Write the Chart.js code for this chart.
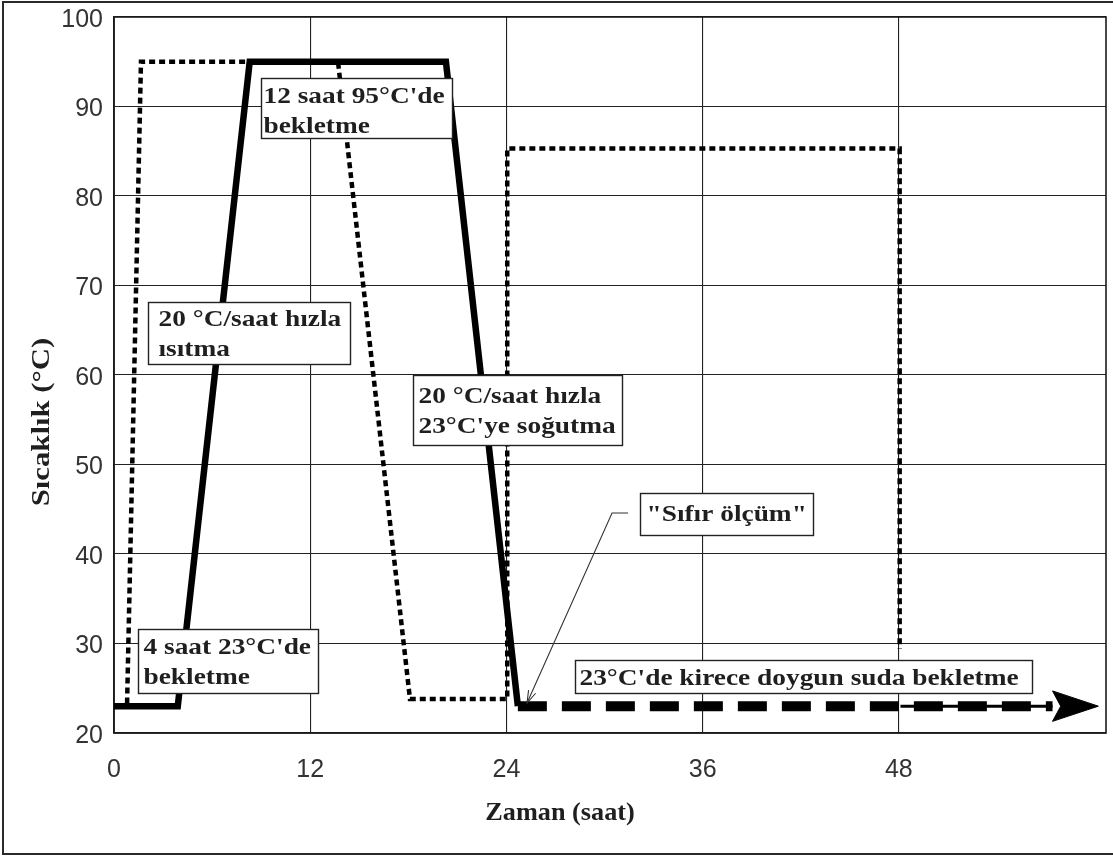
<!DOCTYPE html>
<html>
<head>
<meta charset="utf-8">
<script src="https://cdn.jsdelivr.net/npm/chart.js@4.4.1/dist/chart.umd.min.js"></script>
<style>
  html, body { margin: 0; padding: 0; background: #fff; }
  #wrap { width: 1113px; height: 857px; position: relative; }
</style>
</head>
<body>
<div id="wrap"><canvas id="c" width="1113" height="857"></canvas></div>
<script>
// Curing regime: temperature (°C) against time (h)
const xTicks = [0, 12, 24, 36, 48];
const yTicks = [20, 30, 40, 50, 60, 70, 80, 90, 100];

// solid profile: 4 h at 23 °C, heating, 12 h at 95 °C, cooling to 23 °C
const solidX = [0, 3.9, 8.3, 20.3, 24.7];
const solidY = [23, 23, 95, 95, 23];

// dotted profile
const dotX = [0.8, 1.65, 13.7, 18.1, 24.05, 24.05, 48.05, 48.05];
const dotY = [23.3, 95, 95, 23.8, 23.8, 85.3, 85.3, 29.4];

// storage in lime-saturated water at 23 °C (dashed arrow)
const storeX = [24.7, 57.4];
const storeY = [23, 23];
const joinX = [48.1, 57.4];
const joinY = [23, 23];
const headX = [57.4, 60.2, 57.4, 57.9, 57.4];
const headY = [24.7, 23, 21.3, 23, 24.7];

// leader from the "Sıfır ölçüm" note to the start of storage
const leaderX = [31.44, 30.46, 25.26];
const leaderY = [44.58, 44.58, 23.35];

const pts = (xs, ys) => xs.map((x, i) => ({ x, y: ys[i] }));

// text boxes: top-left corner in axis units, size in px
const notes = [
  { lines: ["12 saat 95°C'de", "bekletme"], x: 8.99, y: 93.18, w: 191, h: 60, padX: 2, base: 24 },
  { lines: ["20 °C/saat hızla", "ısıtma"], x: 2.08, y: 68.16, w: 202, h: 62, padX: 10, base: 23 },
  { lines: ["20 °C/saat hızla", "23°C'ye soğutma"], x: 18.29, y: 60.0, w: 209, h: 70, padX: 5, base: 27 },
  { lines: ['"Sıfır ölçüm"'], x: 32.17, y: 46.82, w: 173, h: 42, padX: 6, base: 27 },
  { lines: ["4 saat 23°C'de", "bekletme"], x: 1.47, y: 31.62, w: 180, h: 64, padX: 5, base: 24 },
  { lines: ["23°C'de kirece doygun suda bekletme"], x: 28.2, y: 28.16, w: 457, h: 33, padX: 4, base: 24 }
];

const SERIF = '"Liberation Serif", "Times New Roman", serif';

function stretchedText(ctx, text, x, y, sx) {
  ctx.save();
  ctx.translate(x, y);
  ctx.scale(sx, 1);
  ctx.fillText(text, 0, 0);
  ctx.restore();
}

const framePlugin = {
  id: 'frame',
  beforeDraw(chart) {
    const ctx = chart.ctx;
    ctx.save();
    ctx.fillStyle = '#fff';
    ctx.fillRect(0, 0, chart.width, chart.height);
    ctx.strokeStyle = '#2a2a2a';
    ctx.lineWidth = 2;
    ctx.beginPath();
    ctx.moveTo(1200, 2);
    ctx.lineTo(3, 2);
    ctx.lineTo(3, 854);
    ctx.lineTo(1200, 854);
    ctx.stroke();
    ctx.restore();
  },
  beforeDatasetsDraw(chart) {
    const { ctx, chartArea: a } = chart;
    ctx.save();
    ctx.strokeStyle = '#1a1a1a';
    ctx.lineWidth = 1.6;
    ctx.strokeRect(a.left, a.top, a.right - a.left, a.bottom - a.top);
    ctx.restore();
  }
};

const notesPlugin = {
  id: 'notes',
  afterDatasetsDraw(chart) {
    const ctx = chart.ctx;
    const xs = chart.scales.x, ys = chart.scales.y;
    ctx.save();

    // leader line with open arrowhead
    const lp = leaderX.map((v, i) => [xs.getPixelForValue(v), ys.getPixelForValue(leaderY[i])]);
    ctx.strokeStyle = '#333';
    ctx.lineWidth = 1.1;
    ctx.beginPath();
    lp.forEach((p, i) => i ? ctx.lineTo(p[0], p[1]) : ctx.moveTo(p[0], p[1]));
    ctx.stroke();
    const [tx, ty] = lp[lp.length - 1];
    const [px, py] = lp[lp.length - 2];
    const ang = Math.atan2(ty - py, tx - px);
    ctx.beginPath();
    ctx.moveTo(tx - 13 * Math.cos(ang - 0.3), ty - 13 * Math.sin(ang - 0.3));
    ctx.lineTo(tx, ty);
    ctx.lineTo(tx - 13 * Math.cos(ang + 0.3), ty - 13 * Math.sin(ang + 0.3));
    ctx.stroke();

    // boxed notes
    ctx.font = 'bold 24px ' + SERIF;
    ctx.textBaseline = 'alphabetic';
    notes.forEach(n => {
      const left = Math.round(xs.getPixelForValue(n.x)) + 0.5;
      const top = Math.round(ys.getPixelForValue(n.y)) + 0.5;
      ctx.fillStyle = '#fff';
      ctx.fillRect(left, top, n.w, n.h);
      ctx.strokeStyle = '#222';
      ctx.lineWidth = 1.4;
      ctx.strokeRect(left, top, n.w, n.h);
      ctx.fillStyle = '#1f1f1f';
      n.lines.forEach((t, i) => stretchedText(ctx, t, left + n.padX, top + n.base + i * 30, 1.14));
    });

    // axis titles
    ctx.fillStyle = '#1f1f1f';
    ctx.font = 'bold 25px ' + SERIF;
    ctx.textAlign = 'center';
    stretchedText(ctx, 'Zaman (saat)', 560, 820, 1.05);
    ctx.save();
    ctx.translate(49, 422);
    ctx.rotate(-Math.PI / 2);
    stretchedText(ctx, 'Sıcaklık (°C)', 0, 0, 1.23);
    ctx.restore();

    ctx.restore();
  }
};

new Chart(document.getElementById('c'), {
  type: 'scatter',
  data: {
    datasets: [
      {
        data: pts(solidX, solidY), showLine: true, borderColor: '#000',
        borderWidth: 6.5, pointRadius: 0, borderJoinStyle: 'miter', borderCapStyle: 'butt', tension: 0
      },
      {
        data: pts(storeX, storeY), showLine: true, borderColor: '#000',
        borderWidth: 10, borderDash: [29, 15], pointRadius: 0, borderCapStyle: 'butt'
      },
      {
        data: pts(joinX, joinY), showLine: true, borderColor: '#000',
        borderWidth: 3, pointRadius: 0
      },
      {
        data: pts(headX, headY), showLine: true, borderColor: '#000', backgroundColor: '#000',
        borderWidth: 1, pointRadius: 0, fill: 'shape', borderJoinStyle: 'miter'
      },
      {
        data: pts(dotX, dotY), showLine: true, borderColor: '#000',
        borderWidth: 4.5, borderDash: [6, 4], pointRadius: 0, borderCapStyle: 'butt', borderJoinStyle: 'miter'
      }
    ]
  },
  options: {
    responsive: false,
    animation: false,
    devicePixelRatio: 1,
    layout: { padding: { top: 17, right: 7, left: 0, bottom: 0 } },
    plugins: { legend: { display: false }, tooltip: { enabled: false } },
    scales: {
      x: {
        type: 'linear', min: 0, max: 60.67,
        afterBuildTicks: s => { s.ticks = xTicks.map(v => ({ value: v })); },
        afterFit: s => { s.height = 124; s.paddingLeft = 0; s.paddingRight = 0; },
        grid: { color: '#222', lineWidth: 1.1, drawTicks: false },
        border: { color: '#1a1a1a', width: 1.6 },
        ticks: {
          padding: 22, color: '#333', maxRotation: 0,
          font: { family: '"Liberation Sans", Arial, sans-serif', size: 25 }
        }
      },
      y: {
        type: 'linear', min: 20, max: 100,
        afterBuildTicks: s => { s.ticks = yTicks.map(v => ({ value: v })); },
        afterFit: s => { s.width = 114; s.paddingTop = 0; s.paddingBottom = 0; },
        grid: { color: '#222', lineWidth: 1.1, drawTicks: false },
        border: { color: '#1a1a1a', width: 1.6 },
        ticks: {
          padding: 11, color: '#333', labelOffset: 3,
          font: { family: '"Liberation Sans", Arial, sans-serif', size: 25 }
        }
      }
    }
  },
  plugins: [framePlugin, notesPlugin]
});
</script>
</body>
</html>
